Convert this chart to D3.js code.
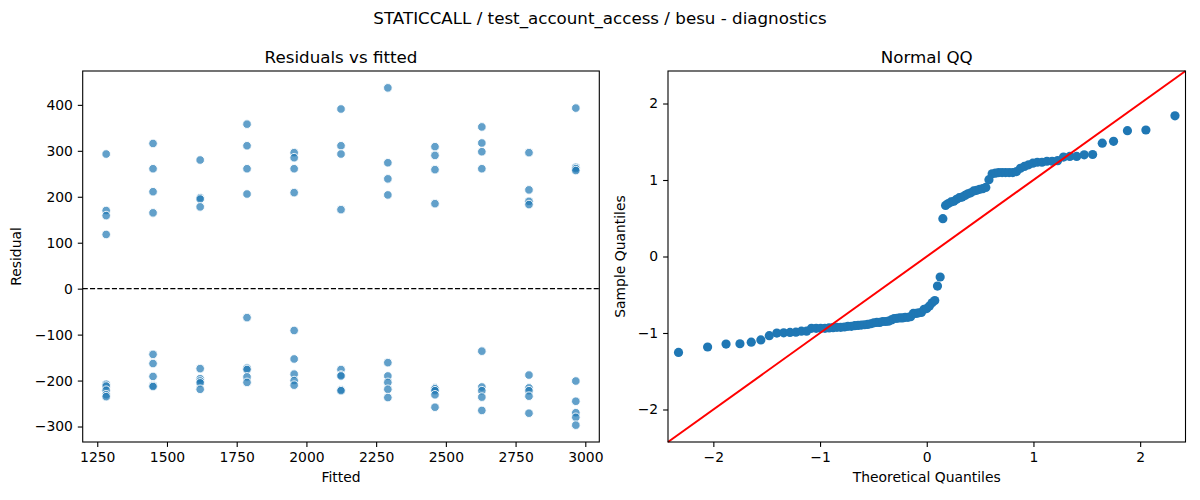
<!DOCTYPE html>
<html>
<head>
<meta charset="utf-8">
<script src="https://cdn.jsdelivr.net/npm/d3@7"></script>
<style>
  body { margin: 0; background: #fff; }
  svg { font-family: "DejaVu Sans", sans-serif; }
</style>
</head>
<body>
<svg id="chart"></svg>
<script>
// Data
const fittedLevels = [1282, 1450, 1619, 1787, 1956, 2124, 2292, 2461, 2629, 2798, 2966];
// residuals for each fitted level (same order as fittedLevels)
const residualsByLevel = [
  [293, 170, 159, 118, -208, -212, -221, -231, -235],
  [316, 261, 211, 165, -143, -163, -191, -211, -213],
  [280, 198, 195, 178, -174, -196, -201, -205, -219],
  [358, 311, 261, 206, -63, -173, -176, -192, -204],
  [296, 285, 261, 209, -91, -153, -186, -200, -210],
  [391, 311, 293, 172, -176, -188, -190, -220, -222],
  [437, 274, 239, 204, -161, -190, -204, -219, -237],
  [309, 290, 259, 185, -216, -218, -222, -231, -258],
  [352, 317, 298, 261, -136, -214, -222, -236, -265],
  [296, 215, 190, 183, -188, -216, -222, -234, -271],
  [393, 264, 261, 257, -201, -245, -270, -280, -297]
];
const residXTicks = [1250, 1500, 1750, 2000, 2250, 2500, 2750, 3000];
const residYTicks = [-300, -200, -100, 0, 100, 200, 300, 400];
const qqTicks = [-2, -1, 0, 1, 2];

const suptitle = "STATICCALL / test_account_access / besu - diagnostics";

// Layout
const width = 1200;
const height = 500;
const left = { x0: 82.7, x1: 599.3, y0: 71, y1: 442 };
const right = { x0: 668, x1: 1185.5, y0: 71, y1: 442 };
const qqLimit = 2.425;
const tickFont = 13.9;
const titleFont = 16.7;
const blue = "#1f77b4";

const svg = d3.select("#chart")
  .attr("width", width)
  .attr("height", height);

const minus = (v) => String(v).replace("-", "\u2212");

// flat list of points
const points = [];
fittedLevels.forEach((f, i) => {
  residualsByLevel[i].forEach((r) => points.push({ fitted: f, resid: r }));
});

// matplotlib style 5% padding
function padded(ext) {
  const pad = (ext[1] - ext[0]) * 0.05;
  return [ext[0] - pad, ext[1] + pad];
}

// inverse normal CDF (Acklam)
function normInv(p) {
  const a = [-3.969683028665376e+01, 2.209460984245205e+02, -2.759285104469687e+02,
    1.383577518672690e+02, -3.066479806614716e+01, 2.506628277459239e+00];
  const b = [-5.447609879822406e+01, 1.615858368580409e+02, -1.556989798598866e+02,
    6.680131188771972e+01, -1.328068155288572e+01];
  const c = [-7.784894002430293e-03, -3.223964580411365e-01, -2.400758277161838e+00,
    -2.549732539343734e+00, 4.374664141464968e+00, 2.938163982698783e+00];
  const d = [7.784695709041462e-03, 3.224671290700398e-01, 2.445134137142996e+00,
    3.754408661907416e+00];
  const pl = 0.02425;
  let q, r;
  if (p < pl) {
    q = Math.sqrt(-2 * Math.log(p));
    return (((((c[0] * q + c[1]) * q + c[2]) * q + c[3]) * q + c[4]) * q + c[5]) /
      ((((d[0] * q + d[1]) * q + d[2]) * q + d[3]) * q + 1);
  } else if (p <= 1 - pl) {
    q = p - 0.5;
    r = q * q;
    return (((((a[0] * r + a[1]) * r + a[2]) * r + a[3]) * r + a[4]) * r + a[5]) * q /
      (((((b[0] * r + b[1]) * r + b[2]) * r + b[3]) * r + b[4]) * r + 1);
  }
  q = Math.sqrt(-2 * Math.log(1 - p));
  return -(((((c[0] * q + c[1]) * q + c[2]) * q + c[3]) * q + c[4]) * q + c[5]) /
    ((((d[0] * q + d[1]) * q + d[2]) * q + d[3]) * q + 1);
}

// Suptitle
svg.append("text")
  .attr("x", width / 2)
  .attr("y", 24)
  .attr("text-anchor", "middle")
  .style("font-size", titleFont + "px")
  .text(suptitle);

function styleAxis(g) {
  g.select(".domain").remove();
  g.selectAll(".tick line").attr("stroke", "#000").attr("stroke-width", 1.1);
  g.selectAll(".tick text")
    .attr("fill", "#000")
    .style("font-size", tickFont + "px")
    .style("font-family", "DejaVu Sans, sans-serif");
}

function frame(box) {
  svg.append("rect")
    .attr("x", box.x0)
    .attr("y", box.y0)
    .attr("width", box.x1 - box.x0)
    .attr("height", box.y1 - box.y0)
    .attr("fill", "none")
    .attr("stroke", "#000")
    .attr("stroke-width", 1.1);
}

function labels(box, title, xLabel, yLabel, yLabelX) {
  const cx = (box.x0 + box.x1) / 2;
  svg.append("text")
    .attr("x", cx)
    .attr("y", box.y0 - 8.5)
    .attr("text-anchor", "middle")
    .style("font-size", titleFont + "px")
    .text(title);
  svg.append("text")
    .attr("x", cx)
    .attr("y", 482)
    .attr("text-anchor", "middle")
    .style("font-size", tickFont + "px")
    .text(xLabel);
  svg.append("text")
    .attr("transform", `translate(${yLabelX},${(box.y0 + box.y1) / 2}) rotate(-90)`)
    .attr("text-anchor", "middle")
    .style("font-size", tickFont + "px")
    .text(yLabel);
}

// ---------- Residuals vs fitted ----------
const x1 = d3.scaleLinear()
  .domain(padded(d3.extent(points, (d) => d.fitted)))
  .range([left.x0, left.x1]);
const y1 = d3.scaleLinear()
  .domain(padded(d3.extent(points, (d) => d.resid)))
  .range([left.y1, left.y0]);

const g1 = svg.append("g");

g1.append("line")
  .attr("x1", left.x0)
  .attr("x2", left.x1)
  .attr("y1", y1(0))
  .attr("y2", y1(0))
  .attr("stroke", "#000")
  .attr("stroke-width", 1.1)
  .attr("stroke-dasharray", "5.1,2.2");

g1.selectAll("circle")
  .data(points)
  .enter().append("circle")
  .attr("cx", (d) => x1(d.fitted))
  .attr("cy", (d) => y1(d.resid))
  .attr("r", 4.3)
  .attr("fill", blue)
  .attr("fill-opacity", 0.7)
  .attr("stroke", "#fff")
  .attr("stroke-width", 0.9);

svg.append("g")
  .attr("transform", `translate(0,${left.y1})`)
  .call(d3.axisBottom(x1).tickValues(residXTicks).tickFormat(minus).tickSize(4.9).tickPadding(4.9).tickSizeOuter(0))
  .call(styleAxis);
svg.append("g")
  .attr("transform", `translate(${left.x0},0)`)
  .call(d3.axisLeft(y1).tickValues(residYTicks).tickFormat(minus).tickSize(4.9).tickPadding(4.9).tickSizeOuter(0))
  .call(styleAxis);

frame(left);
labels(left, "Residuals vs fitted", "Fitted", "Residual", 21);

// ---------- Normal QQ ----------
// sample quantiles: sorted residuals standardised by mean and std (as statsmodels fit=True)
const resid = points.map((d) => d.resid).sort((a, b) => a - b);
const n = resid.length;
const mean = d3.mean(resid);
const sd = Math.sqrt(d3.mean(resid, (r) => (r - mean) * (r - mean)));
const qq = resid.map((r, i) => ({
  theo: normInv((i + 1) / (n + 1)),
  sample: (r - mean) / sd
}));

const x2 = d3.scaleLinear().domain([-qqLimit, qqLimit]).range([right.x0, right.x1]);
const y2 = d3.scaleLinear().domain([-qqLimit, qqLimit]).range([right.y1, right.y0]);

const g2 = svg.append("g");

g2.selectAll("circle")
  .data(qq)
  .enter().append("circle")
  .attr("cx", (d) => x2(d.theo))
  .attr("cy", (d) => y2(d.sample))
  .attr("r", 4.6)
  .attr("fill", blue);

g2.append("line")
  .attr("x1", x2(-qqLimit))
  .attr("y1", y2(-qqLimit))
  .attr("x2", x2(qqLimit))
  .attr("y2", y2(qqLimit))
  .attr("stroke", "red")
  .attr("stroke-width", 2);

svg.append("g")
  .attr("transform", `translate(0,${right.y1})`)
  .call(d3.axisBottom(x2).tickValues(qqTicks).tickFormat(minus).tickSize(4.9).tickPadding(4.9).tickSizeOuter(0))
  .call(styleAxis);
svg.append("g")
  .attr("transform", `translate(${right.x0},0)`)
  .call(d3.axisLeft(y2).tickValues(qqTicks).tickFormat(minus).tickSize(4.9).tickPadding(4.9).tickSizeOuter(0))
  .call(styleAxis);

frame(right);
labels(right, "Normal QQ", "Theoretical Quantiles", "Sample Quantiles", 625);
</script>
</body>
</html>
